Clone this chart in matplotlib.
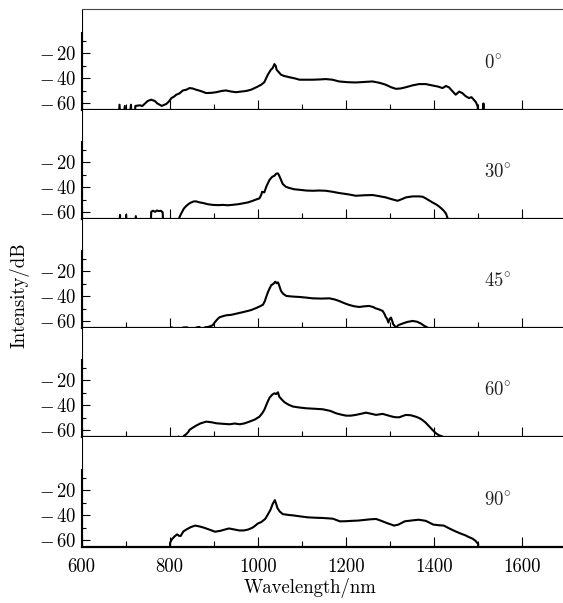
import matplotlib
matplotlib.use("Agg")
import matplotlib.pyplot as plt
from matplotlib.ticker import FixedLocator, FixedFormatter, MultipleLocator

plt.rcParams['font.family'] = 'serif'
plt.rcParams['font.serif'] = ['cmr10', 'DejaVu Serif']
plt.rcParams['mathtext.fontset'] = 'cm'
plt.rcParams['axes.unicode_minus'] = False
plt.rcParams['font.size'] = 13.5

# ---- data (wavelength in nm, intensity in dB) ----
# -90 marks points where the trace drops below the visible floor
wl0 = [
    680, 686, 690, 698, 702, 712, 716, 722, 732, 738,
    744, 750, 758, 766, 772, 777, 782, 788, 792, 798,
    804, 810, 815, 822, 830, 838, 845, 852, 860, 870,
    883, 895, 906, 918, 928, 940, 951, 962, 974, 985,
    993, 1000, 1008, 1015, 1023, 1030, 1034, 1038, 1041, 1043,
    1048, 1053, 1060, 1072, 1085, 1095, 1110, 1125, 1140, 1155,
    1170, 1185, 1205, 1223, 1242, 1261, 1277, 1291, 1303, 1314,
    1325, 1337, 1352, 1367, 1382, 1397, 1410, 1420, 1428, 1435,
    1442, 1450, 1458, 1465, 1472, 1480, 1486, 1491, 1496, 1500,
    1504, 1511, 1513, 1515, 1518]
db0 = [
    -90, -61, -90, -62, -90, -61, -90, -62, -61.5, -62,
    -60, -58, -57, -58, -60, -61, -62, -61, -60.5, -58.5,
    -55.7, -54.5, -53, -52, -49.6, -49, -47.7, -48, -49, -50,
    -51.7, -51.5, -51, -50, -49.6, -50.5, -51, -50.5, -50, -49,
    -47.7, -46.5, -45, -43, -37, -33, -31.7, -28.5, -30, -33,
    -35, -37, -38, -39, -40, -41, -41, -41, -40.8, -40.5,
    -41, -42.4, -43, -43.2, -42.8, -42.4, -43.5, -45, -47, -48.3,
    -48, -47, -45.5, -44.5, -44.5, -45.6, -46.5, -47.7, -46, -47.2,
    -50, -53, -50.5, -51.7, -54, -55.7, -55, -57, -59, -62.4,
    -90, -90, -60, -90, -90]

wl30 = [
    684, 687, 690, 699, 701, 704, 720, 723, 726, 755,
    758, 762, 767, 771, 775, 780, 784, 788, 818, 822,
    826, 832, 838, 844, 849, 855, 860, 868, 876, 887,
    898, 910, 921, 932, 944, 955, 966, 978, 989, 998,
    1004, 1008, 1010, 1015, 1020, 1027, 1033, 1038, 1042, 1046,
    1049, 1053, 1057, 1064, 1072, 1083, 1095, 1110, 1125, 1140,
    1155, 1170, 1185, 1205, 1223, 1242, 1261, 1276, 1291, 1305,
    1318, 1327, 1337, 1352, 1367, 1375, 1382, 1390, 1397, 1405,
    1412, 1418, 1423, 1428, 1431, 1434]
db30 = [
    -90, -62, -90, -90, -62, -90, -90, -63, -90, -90,
    -59.5, -58.7, -59.5, -58.5, -59, -58.7, -60, -90, -90, -64,
    -61, -57, -54.7, -53, -52, -51.2, -51.2, -52, -52.5, -53.5,
    -54, -54.2, -54, -54.3, -53.9, -53.5, -52.8, -52, -50.7, -49.5,
    -48.8, -46, -43.5, -44, -39, -33.9, -31.5, -30.7, -29, -28.8,
    -30.7, -34, -37.3, -39.5, -40.5, -41.5, -41.9, -42.5, -42.7, -42.5,
    -42.7, -43.5, -44.5, -45.5, -46.7, -46.3, -46.1, -47, -48, -49.5,
    -50.7, -49.5, -48, -47.2, -47.2, -47.5, -48.8, -50.5, -52, -53.5,
    -55.2, -57, -58.7, -61, -64, -90]

wl45 = [
    800, 805, 815, 830, 840, 850, 860, 868, 875, 880,
    887, 894, 898, 902, 908, 913, 920, 928, 940, 951,
    962, 974, 985, 997, 1005, 1012, 1016, 1019, 1024, 1028,
    1031, 1034, 1037, 1040, 1043, 1046, 1048, 1053, 1058, 1065,
    1080, 1095, 1110, 1125, 1145, 1163, 1175, 1185, 1197, 1208,
    1220, 1231, 1242, 1253, 1262, 1268, 1276, 1284, 1288, 1291,
    1294, 1297, 1300, 1303, 1306, 1308, 1311, 1314, 1320, 1329,
    1340, 1352, 1362, 1371, 1378, 1386, 1390]
db45 = [
    -90, -64.8, -90, -65, -64.8, -90, -65, -64.5, -90, -64.8,
    -64.5, -63.7, -63, -61, -58.5, -56.8, -56, -55.2, -54.8, -53.9,
    -53, -52, -51, -49.3, -48, -46.7, -44, -40.8, -36, -33,
    -31, -30.4, -29.5, -28.3, -29.5, -28.8, -30.4, -35.7, -38, -39.7,
    -40.2, -40.5, -41, -41.6, -41.8, -41.6, -42.5, -43.7, -45.5, -46.9,
    -48, -48.5, -48, -47.7, -48.5, -49.6, -50.5, -51.7, -54, -56.5,
    -58, -61, -58, -57, -60, -62.4, -63.5, -65, -63, -61.8,
    -60.5, -59.7, -60.3, -61.8, -63.5, -65, -90]

wl60 = [
    815, 820, 826, 832, 838, 842, 845, 852, 860, 870,
    883, 895, 906, 920, 936, 948, 959, 970, 981, 993,
    1004, 1010, 1015, 1021, 1027, 1033, 1038, 1042, 1046, 1049,
    1055, 1061, 1070, 1080, 1095, 1110, 1130, 1148, 1165, 1178,
    1190, 1201, 1212, 1223, 1235, 1246, 1258, 1269, 1276, 1284,
    1295, 1306, 1314, 1322, 1330, 1337, 1348, 1359, 1367, 1374,
    1382, 1390, 1398, 1405, 1412, 1420, 1424]
db60 = [
    -90, -65, -90, -64.5, -63, -61.5, -59.7, -58, -56.3, -54.5,
    -53.1, -53.6, -54.4, -54.8, -55.2, -54.6, -55.2, -54.5, -53.1, -51.5,
    -49.1, -46.5, -43.7, -38.5, -33.9, -31.5, -30.4, -31, -29.6, -33.1,
    -35.5, -37.6, -39.5, -41, -41.8, -42.4, -42.8, -43.2, -44.5, -46.4,
    -47.5, -48.3, -48.3, -47.7, -46.8, -45.9, -46.8, -47.7, -47.3, -46.9,
    -48, -49.1, -49.6, -49.6, -48.5, -47.7, -48, -49.1, -50.2, -51.7,
    -54, -57, -60, -62.4, -64, -65, -90]

wl90 = [
    799, 801, 805, 811, 817, 821, 825, 831, 838, 848,
    858, 868, 878, 890, 903, 915, 925, 935, 945, 958,
    968, 978, 988, 994, 1000, 1008, 1017, 1023, 1029, 1034,
    1039, 1042, 1045, 1050, 1057, 1070, 1082, 1098, 1114, 1130,
    1147, 1160, 1171, 1180, 1187, 1200, 1214, 1228, 1242, 1255,
    1269, 1281, 1293, 1302, 1310, 1320, 1334, 1350, 1366, 1382,
    1399, 1411, 1423, 1435, 1448, 1460, 1472, 1480, 1488, 1495,
    1501, 1504]
db90 = [
    -90, -62, -59.2, -57, -55.3, -56.5, -56.6, -53, -51.4, -49.5,
    -48.3, -49, -50, -51.5, -53.2, -52.5, -51.5, -50.6, -51.3, -52.2,
    -52.2, -51.5, -50, -48.5, -46.7, -45.5, -43, -39.5, -35.7, -31,
    -27.9, -31, -34.4, -37, -39.1, -39.8, -40.2, -41, -41.7, -42,
    -42.2, -42.5, -42.8, -44, -44.9, -44.8, -44.5, -44.3, -43.8, -43.3,
    -43, -44.5, -46.2, -47.3, -48.3, -47.5, -44.9, -44.2, -43.6, -44.5,
    -47.5, -48, -48.3, -50.5, -52.7, -54.5, -56.1, -57.5, -58.7, -60.5,
    -63, -90]

angles = ['0', '30', '45', '60', '90']
waves = [wl0, wl30, wl45, wl60, wl90]
levels = [db0, db30, db45, db60, db90]

y_ticks = [-60, -40, -20]
y_ticklabels = [r'$-\,60$', r'$-\,40$', r'$-\,20$']
x_ticks = [600, 800, 1000, 1200, 1400, 1600]

# ---- layout ----
W, H = 563, 603
fig = plt.figure(figsize=(W / 100, H / 100), dpi=100)
heights = [101, 109, 109, 109, 110]
gs = fig.add_gridspec(5, 1, left=81.7 / W, right=565.7 / W,
                      top=1 - 9 / H, bottom=1 - 546.7 / H,
                      hspace=0, height_ratios=heights)

px_per_db = 1.25
y_floor = -65.2

for i, (ang, wl, db) in enumerate(zip(angles, waves, levels)):
    ax = fig.add_subplot(gs[i])
    ax.plot(wl, db, color='black', lw=1.5, solid_joinstyle='round')
    ax.set_xlim(600, 1700)
    ax.set_ylim(y_floor, y_floor + heights[i] / px_per_db)

    for s in ('right', 'top'):
        ax.spines[s].set_visible(False)
    if i == 0:
        ax.spines['top'].set_visible(True)
        ax.spines['top'].set_linewidth(0.8)
        ax.spines['top'].set_color('#444444')
    ax.spines['bottom'].set_linewidth(1.6)
    ax.spines['left'].set_linewidth(1.5)
    ax.spines['left'].set_bounds(y_floor, -4)
    ax.axvline(600, color='black', lw=0.8)

    ax.yaxis.set_major_locator(FixedLocator(y_ticks))
    ax.yaxis.set_major_formatter(FixedFormatter(y_ticklabels))
    ax.yaxis.set_minor_locator(FixedLocator([-50, -30, -10]))
    ax.tick_params(axis='y', which='major', direction='in', length=5.8,
                   width=0.8, pad=4, right=False)
    ax.tick_params(axis='y', which='minor', direction='in', length=3.2,
                   width=0.8, right=False)

    ax.xaxis.set_major_locator(FixedLocator(x_ticks))
    ax.xaxis.set_minor_locator(MultipleLocator(100))
    ax.tick_params(axis='x', which='major', direction='in', length=7,
                   width=0.8, pad=8, top=False, labelbottom=(i == 4))
    ax.tick_params(axis='x', which='minor', direction='in', length=4.3,
                   width=0.8, top=False)

    ax.text(1515, -28, r'$%s^{\!\circ}$' % ang, ha='left', va='center',
            color='#222222', fontsize=13.5)

fig.text(0.034, 0.51, 'Intensity/dB', rotation=90, ha='center', va='center')
fig.text(0.55, 1 - 588 / H, 'Wavelength/nm', ha='center', va='center')

fig.savefig('out.png', dpi=100)
